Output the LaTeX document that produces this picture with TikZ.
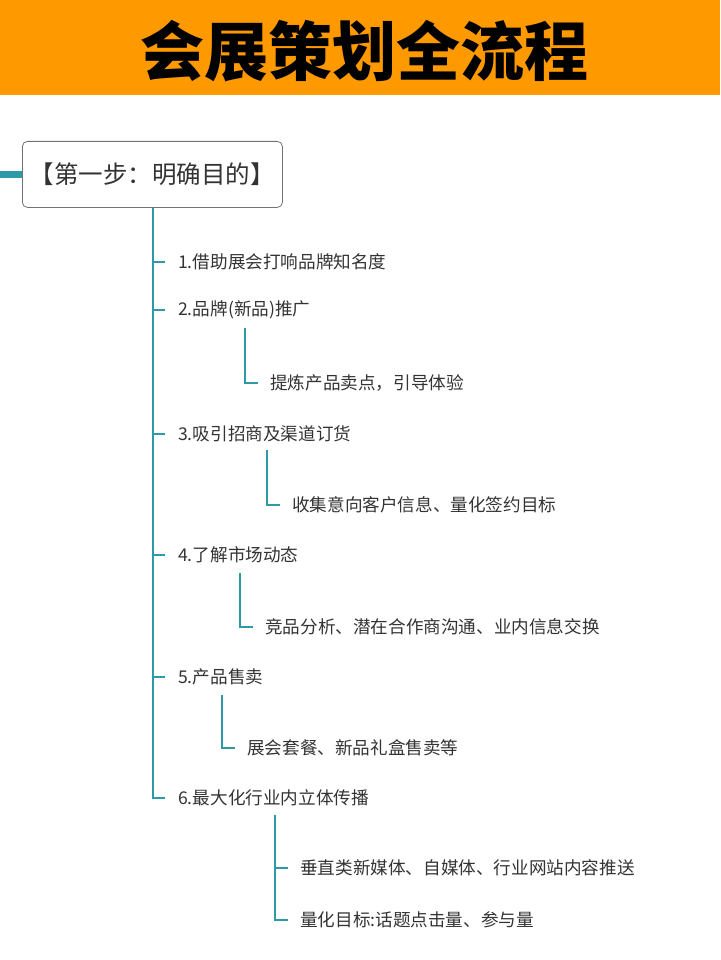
\documentclass[tikz,border=0pt]{standalone}
\usepackage{fontspec}
\setmainfont{Noto Sans CJK SC}
\begin{document}
\begin{tikzpicture}[x=1pt,y=-1pt,
  br/.style={draw=teal1,line width=2.2pt},
  item/.style={anchor=west,inner sep=0pt,text=txt,font=\fontsize{17.6}{19}\selectfont}]
\definecolor{teal1}{HTML}{2E9AA8}
\definecolor{txt}{HTML}{333333}
\definecolor{org}{HTML}{FF9900}
\useasboundingbox (0,0) rectangle (720,960);
\fill[org] (0,0) rectangle (720,95);
\node[font=\fontsize{64}{66}\selectfont\bfseries] (title) at (364,51) {会展策划全流程};
\draw[teal1,line width=7pt] (0,175) -- (22,175);
\node[draw=black!55,rounded corners=5pt,line width=0.8pt,minimum width=260pt,minimum height=66pt,anchor=north west,fill=white,text=txt,font=\fontsize{24.5}{26}\selectfont] (root) at (22,141) {【第一步：明确目的】};
\draw[br] (root.south -| 153,0) -- (153,798) -- (165,798);
\foreach \y/\t [count=\i] in {262/1.借助展会打响品牌知名度,310/2.品牌(新品)推广,434/3.吸引招商及渠道订货,555/4.了解市场动态,677/5.产品售卖,798/6.最大化行业内立体传播}{
  \draw[br] (153,\y) -- (165,\y);
  \node[item] (n\i) at (178,\y) {\t};
}
\draw[br] (245,328) -- (245,383) -- (258,383);
\node[item] (s2) at (270,383) {提炼产品卖点，引导体验};
\draw[br] (267,450) -- (267,505) -- (280,505);
\node[item] (s3) at (292,505) {收集意向客户信息、量化签约目标};
\draw[br] (240,573) -- (240,627) -- (253,627);
\node[item] (s4) at (265,627) {竞品分析、潜在合作商沟通、业内信息交换};
\draw[br] (222,695) -- (222,748) -- (235,748);
\node[item] (s5) at (247,748) {展会套餐、新品礼盒售卖等};
\draw[br] (275,815) -- (275,920) -- (288,920);
\draw[br] (275,868) -- (288,868);
\node[item] (s6a) at (300,868) {垂直类新媒体、自媒体、行业网站内容推送};
\node[item] (s6b) at (300,920) {量化目标:话题点击量、参与量};
\end{tikzpicture}
\end{document}
